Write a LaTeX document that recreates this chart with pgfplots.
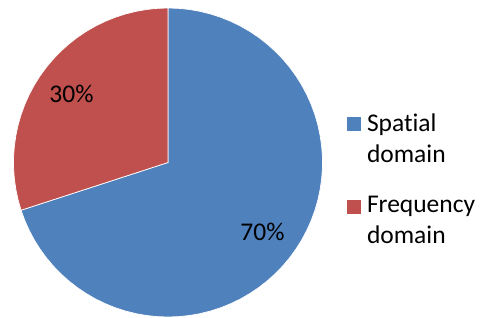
\documentclass[border=0pt]{standalone}
\usepackage{pgfplots}
\pgfplotsset{compat=1.18}
\usepackage{fontspec}
\setmainfont[Ligatures={NoCommon}]{Carlito}
\definecolor{pieblue}{HTML}{4F81BD}
\definecolor{piered}{HTML}{C0504D}
\begin{document}
\begin{tikzpicture}
\begin{axis}[
 scale only axis, width=488pt, height=318pt,
 xmin=-168, xmax=320, ymin=-155.5, ymax=162.5,
 hide axis, clip=false,
 legend cell align=left,
 legend style={at={(axis cs:179,49.1)}, anchor=north west, draw=none, fill=none,
   inner sep=0pt, outer sep=0pt, font=\fontsize{25.5pt}{31pt}\selectfont,
   nodes={align=left, inner sep=0pt}, column sep=6pt, row sep=32.6pt},
 legend image code/.code={\fill[#1,draw=none] (0pt,7pt) rectangle (14pt,21pt);},
]
% Spatial domain: 70% (252 degrees), clockwise from 12 o'clock
\addplot[data cs=polar, fill=pieblue, draw=white, line width=0.7pt] coordinates {
(0,0) (198,154.5) (202,154.5) (206,154.5) (210,154.5) (214,154.5) (218,154.5) (222,154.5)
(226,154.5) (230,154.5) (234,154.5) (238,154.5) (242,154.5) (246,154.5) (250,154.5)
(254,154.5) (258,154.5) (262,154.5) (266,154.5) (270,154.5) (274,154.5) (278,154.5)
(282,154.5) (286,154.5) (290,154.5) (294,154.5) (298,154.5) (302,154.5) (306,154.5)
(310,154.5) (314,154.5) (318,154.5) (322,154.5) (326,154.5) (330,154.5) (334,154.5)
(338,154.5) (342,154.5) (346,154.5) (350,154.5) (354,154.5) (358,154.5) (362,154.5)
(366,154.5) (370,154.5) (374,154.5) (378,154.5) (382,154.5) (386,154.5) (390,154.5)
(394,154.5) (398,154.5) (402,154.5) (406,154.5) (410,154.5) (414,154.5) (418,154.5)
(422,154.5) (426,154.5) (430,154.5) (434,154.5) (438,154.5) (442,154.5) (446,154.5)
(450,154.5) (0,0)
} -- cycle;
\addlegendentry{Spatial\\domain}
% Frequency domain: 30% (108 degrees)
\addplot[data cs=polar, fill=piered, draw=white, line width=0.7pt] coordinates {
(0,0) (90,154.5) (94,154.5) (98,154.5) (102,154.5) (106,154.5) (110,154.5) (114,154.5)
(118,154.5) (122,154.5) (126,154.5) (130,154.5) (134,154.5) (138,154.5) (142,154.5)
(146,154.5) (150,154.5) (154,154.5) (158,154.5) (162,154.5) (166,154.5) (170,154.5)
(174,154.5) (178,154.5) (182,154.5) (186,154.5) (190,154.5) (194,154.5) (198,154.5) (0,0)
} -- cycle;
\addlegendentry{Frequency\\domain}
\node[anchor=base, font=\fontsize{25.5pt}{31pt}\selectfont] at (axis cs:-96.5,59.5) {30\%};
\node[anchor=base, font=\fontsize{25.5pt}{31pt}\selectfont] at (axis cs:94.5,-78.5) {70\%};
\end{axis}
\path (current axis.south west) rectangle (current axis.north east);
\end{tikzpicture}
\end{document}
